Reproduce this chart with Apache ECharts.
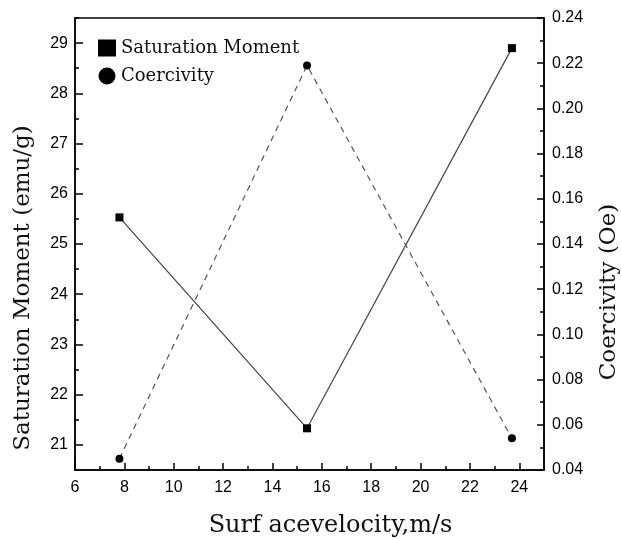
<!DOCTYPE html>
<html>
<head>
<meta charset="utf-8">
<script src="https://cdn.jsdelivr.net/npm/echarts@6/dist/echarts.min.js"></script>
<style>html,body{margin:0;padding:0;background:#fff}#c{width:621px;height:539px}</style>
</head>
<body>
<div id="c"></div>
<script>
var velocity = [7.8, 15.4, 23.7];
var saturationMoment = [25.53, 21.33, 28.9];
var coercivity = [0.045, 0.219, 0.054];
var xMajorTicks = [6, 8, 10, 12, 14, 16, 18, 20, 22, 24];
var xMinorTicks = [7, 9, 11, 13, 15, 17, 19, 21, 23, 25];
var leftMajorTicks = [21, 22, 23, 24, 25, 26, 27, 28, 29];
var leftMinorTicks = [20.5, 21.5, 22.5, 23.5, 24.5, 25.5, 26.5, 27.5, 28.5, 29.5];

var chart = echarts.init(document.getElementById('c'), null, {renderer: 'canvas'});
var lblFont = {color: '#000', fontFamily: 'Liberation Sans, Arial', fontSize: 16};
var serif = 'DejaVu Serif';
var grid = {left: 75, right: 77, top: 18, bottom: 69, outerBoundsMode: 'none', containLabel: false, show: true, borderColor: '#000', borderWidth: 1.5, backgroundColor: 'transparent'};

var option = {
  animation: false,
  backgroundColor: '#fff',
  grid: grid,
  legend: {
    orient: 'vertical', left: 93, top: 34, itemGap: 10,
    itemWidth: 18, itemHeight: 17,
    textStyle: {fontFamily: serif, fontSize: 18, color: '#111'},
    data: [
      {name: 'Saturation Moment', icon: 'rect'},
      {name: 'Coercivity', icon: 'circle'}
    ]
  },
  xAxis: [
    {
      type: 'value', min: 6, max: 25, interval: 2,
      name: 'Surf acevelocity,m/s', nameLocation: 'middle', nameGap: 44,
      nameTextStyle: {fontFamily: serif, fontSize: 24, color: '#111', padding: [0, 0, 0, 42]},
      axisLine: {lineStyle: {color: '#000', width: 1.5}},
      axisTick: {inside: true, length: 7, customValues: xMajorTicks, lineStyle: {color: '#000', width: 1.5}},
      axisLabel: Object.assign({margin: 10, customValues: xMajorTicks}, lblFont),
      splitLine: {show: false}
    },
    {
      type: 'value', min: 6, max: 25, interval: 1, position: 'bottom',
      axisLine: {show: false},
      axisTick: {inside: true, length: 4, customValues: xMinorTicks, lineStyle: {color: '#000', width: 1.5}},
      axisLabel: {show: false},
      splitLine: {show: false}
    }
  ],
  yAxis: [
    {
      type: 'value', min: 20.5, max: 29.5, interval: 0.5, position: 'left',
      name: 'Saturation Moment (emu/g)', nameLocation: 'middle', nameGap: 40,
      nameTextStyle: {fontFamily: serif, fontSize: 23, color: '#111', padding: [0, 0, 0, -88]},
      axisLine: {show: true, lineStyle: {color: '#000', width: 1.5}},
      axisTick: {inside: true, length: 8, customValues: leftMajorTicks, lineStyle: {color: '#000', width: 1.5}},
      axisLabel: Object.assign({margin: 7, customValues: leftMajorTicks}, lblFont),
      splitLine: {show: false}
    },
    {
      type: 'value', min: 0.04, max: 0.24, interval: 0.02, position: 'right',
      name: 'Coercivity (Oe)', nameLocation: 'middle', nameGap: 54, nameRotate: 90,
      nameTextStyle: {fontFamily: serif, fontSize: 23, color: '#111', padding: [0, 0, 0, -96]},
      axisLine: {show: true, lineStyle: {color: '#000', width: 1.5}},
      axisTick: {inside: true, length: 7, lineStyle: {color: '#000', width: 1.5}},
      minorTick: {show: true, splitNumber: 2, length: 4, lineStyle: {color: '#000', width: 1.5}},
      axisLabel: Object.assign({margin: 8, formatter: function (v) { return v.toFixed(2); }}, lblFont),
      splitLine: {show: false}
    },
    {
      type: 'value', min: 20.5, max: 29.5, interval: 0.5, position: 'left',
      axisLine: {show: false},
      axisTick: {inside: true, length: 4, customValues: leftMinorTicks, lineStyle: {color: '#000', width: 1.5}},
      axisLabel: {show: false},
      splitLine: {show: false}
    }
  ],
  series: [
    {
      name: 'Saturation Moment', type: 'line', xAxisIndex: 0, yAxisIndex: 0,
      data: velocity.map(function (x, i) { return [x, saturationMoment[i]]; }),
      symbol: 'rect', symbolSize: 8,
      itemStyle: {color: '#000'},
      lineStyle: {color: '#444', width: 1.2, type: 'solid'}
    },
    {
      name: 'Coercivity', type: 'line', xAxisIndex: 0, yAxisIndex: 1,
      data: velocity.map(function (x, i) { return [x, coercivity[i]]; }),
      symbol: 'circle', symbolSize: 8,
      itemStyle: {color: '#000'},
      lineStyle: {color: '#555', width: 1.2, type: [6, 5]}
    }
  ]
};
chart.setOption(option);
</script>
</body>
</html>
